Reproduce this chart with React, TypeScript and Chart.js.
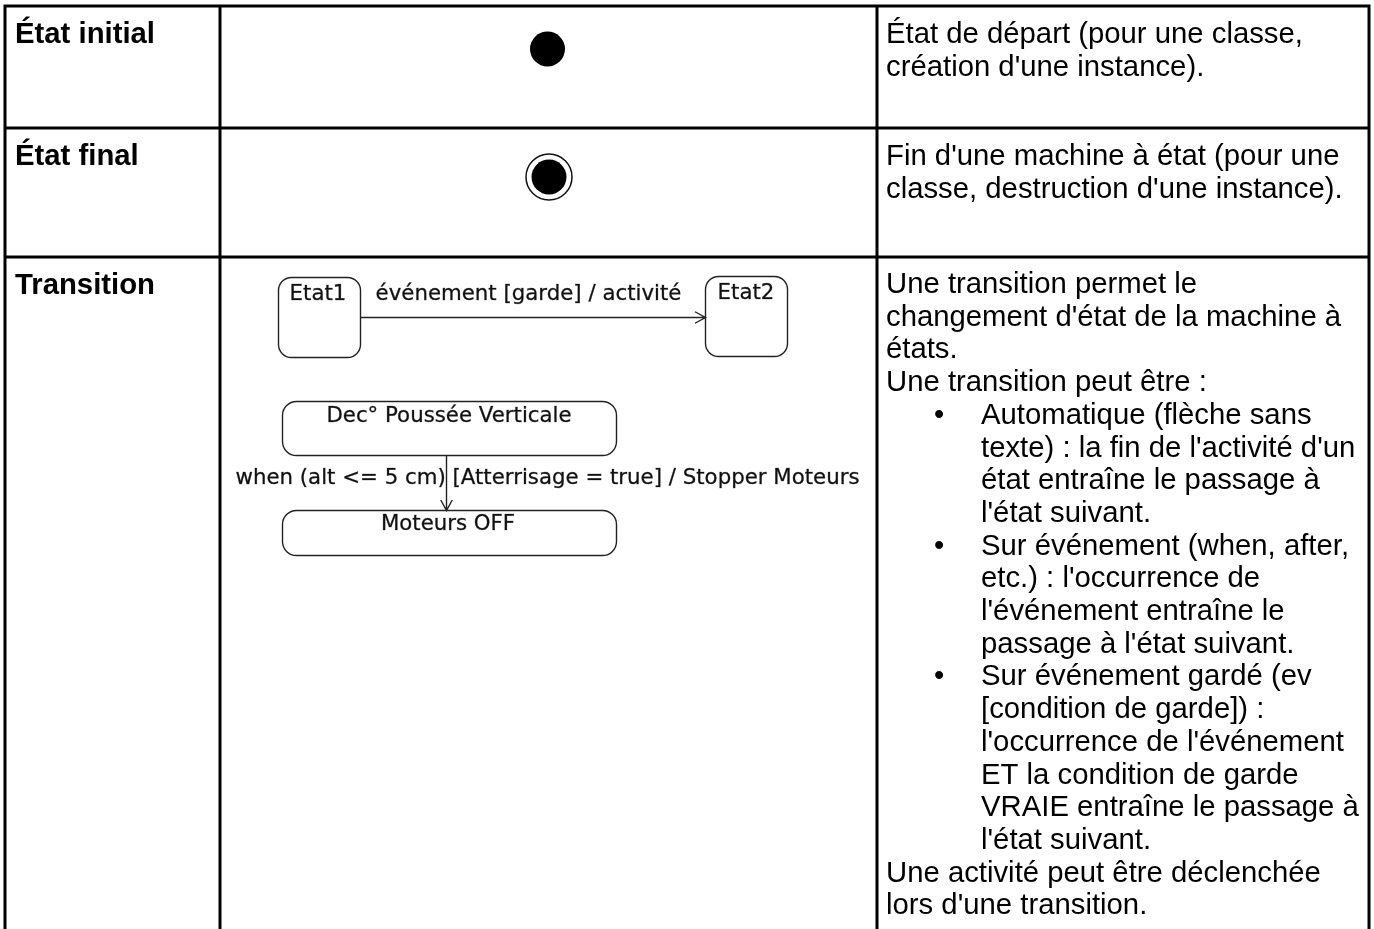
import React, { useEffect, useRef } from "react";
import { Chart, registerables } from "chart.js";
Chart.register(...registerables);

// ---- content ----
const rowTitles = ["État initial", "État final", "Transition"];
const descInitial = ["État de départ (pour une classe,", "création d'une instance)."];
const descFinal = ["Fin d'une machine à état (pour une", "classe, destruction d'une instance)."];
const descTransition = [
  "Une transition permet le",
  "changement d'état de la machine à",
  "états.",
  "Une transition peut être :",
  "Automatique (flèche sans",
  "texte) : la fin de l'activité d'un",
  "état entraîne le passage à",
  "l'état suivant.",
  "Sur événement (when, after,",
  "etc.) : l'occurrence de",
  "l'événement entraîne le",
  "passage à l'état suivant.",
  "Sur événement gardé (ev",
  "[condition de garde]) :",
  "l'occurrence de l'événement",
  "ET la condition de garde",
  "VRAIE entraîne le passage à",
  "l'état suivant.",
  "Une activité peut être déclenchée",
  "lors d'une transition.",
];
// 0 = flush, 1 = indented continuation, 2 = bullet item
const descTransitionLevel = [0, 0, 0, 0, 2, 1, 1, 1, 2, 1, 1, 1, 2, 1, 1, 1, 1, 1, 0, 0];
const simpleStates = ["Etat1", "Etat2"];
const simpleTransitionLabel = "événement [garde] / activité";
const wideStates = ["Dec° Poussée Verticale", "Moteurs OFF"];
const guardedTransitionLabel = "when (alt <= 5 cm) [Atterrisage = true] / Stopper Moteurs";

// ---- layout (pixel-like units on hidden linear scales) ----
const W = 1374;
const H = 929;
const COLS = [5, 220, 877, 1369];
const ROWS = [6, 128, 257];
const LINE_H = 32.7;
const TABLE_FONT = '29.3px "Liberation Sans", Arial, sans-serif';
const TABLE_FONT_BOLD = 'bold 29.3px "Liberation Sans", Arial, sans-serif';
const DIAG_FONT = '21.3px "DejaVu Sans", sans-serif';

const tablePlugin = {
  id: "tablePlugin",
  beforeDatasetsDraw(chart: any) {
    const ctx = chart.ctx as CanvasRenderingContext2D;
    const xs = chart.scales.x;
    const ys = chart.scales.y;
    const px = (v: number) => xs.getPixelForValue(v);
    const py = (v: number) => ys.getPixelForValue(v);

    ctx.save();
    // table grid
    ctx.strokeStyle = "#000";
    ctx.lineWidth = 3;
    ctx.beginPath();
    COLS.forEach((c) => {
      ctx.moveTo(px(c), py(ROWS[0] - 1.5));
      ctx.lineTo(px(c), py(H));
    });
    ROWS.forEach((r) => {
      ctx.moveTo(px(COLS[0] - 1.5), py(r));
      ctx.lineTo(px(COLS[3] + 1.5), py(r));
    });
    ctx.stroke();

    // titles
    ctx.fillStyle = "#000";
    ctx.textBaseline = "alphabetic";
    ctx.textAlign = "left";
    ctx.font = TABLE_FONT_BOLD;
    rowTitles.forEach((t, i) => {
      ctx.fillText(t, px(COLS[0] + 10), py(ROWS[i] + 37));
    });

    // descriptions
    ctx.font = TABLE_FONT;
    const dx = COLS[2] + 9;
    descInitial.forEach((t, i) => ctx.fillText(t, px(dx), py(ROWS[0] + 37 + i * LINE_H)));
    descFinal.forEach((t, i) => ctx.fillText(t, px(dx), py(ROWS[1] + 37 + i * LINE_H)));
    descTransition.forEach((t, i) => {
      const lvl = descTransitionLevel[i];
      const y = py(ROWS[2] + 36 + i * LINE_H);
      if (lvl === 2) ctx.fillText("•", px(dx + 48), y);
      ctx.fillText(t, px(lvl > 0 ? dx + 95 : dx), y);
    });

    // ---- diagrams ----
    const rrect = (x0: number, y0: number, x1: number, y1: number, r: number) => {
      const a = px(x0), b = py(y0), c = px(x1), d = py(y1);
      ctx.beginPath();
      ctx.moveTo(a + r, b);
      ctx.lineTo(c - r, b);
      ctx.arcTo(c, b, c, b + r, r);
      ctx.lineTo(c, d - r);
      ctx.arcTo(c, d, c - r, d, r);
      ctx.lineTo(a + r, d);
      ctx.arcTo(a, d, a, d - r, r);
      ctx.lineTo(a, b + r);
      ctx.arcTo(a, b, a + r, b, r);
      ctx.closePath();
      ctx.stroke();
    };
    const arrow = (x0: number, y0: number, x1: number, y1: number) => {
      const a = px(x0), b = py(y0), c = px(x1), d = py(y1);
      ctx.beginPath();
      ctx.moveTo(a, b);
      ctx.lineTo(c, d);
      const ang = Math.atan2(d - b, c - a);
      const L = 12;
      const s = 0.5;
      ctx.moveTo(c - L * Math.cos(ang - s), d - L * Math.sin(ang - s));
      ctx.lineTo(c, d);
      ctx.lineTo(c - L * Math.cos(ang + s), d - L * Math.sin(ang + s));
      ctx.stroke();
    };
    const label = (t: string, x: number, y: number) => {
      ctx.fillText(t, px(x), py(y));
      ctx.strokeText(t, px(x), py(y));
    };

    ctx.strokeStyle = "#222";
    ctx.lineWidth = 1.4;
    rrect(278.5, 277.5, 360.5, 357.5, 13);
    rrect(705.5, 276.5, 787.5, 356.5, 13);
    arrow(360.5, 317.5, 705.5, 317.5);
    rrect(282.5, 401.5, 616.5, 455.5, 14);
    rrect(282.5, 510.5, 616.5, 555.5, 14);
    arrow(446.5, 455.5, 446.5, 510.5);

    ctx.fillStyle = "#111";
    ctx.strokeStyle = "rgba(17,17,17,0.55)";
    ctx.lineWidth = 0.5;
    ctx.font = DIAG_FONT;
    ctx.textAlign = "center";
    ctx.textBaseline = "middle";
    label(simpleStates[0], 318, 294);
    label(simpleStates[1], 746, 293);
    label(simpleTransitionLabel, 528.5, 294);
    label(wideStates[0], 449, 416);
    label(wideStates[1], 448, 524);
    label(guardedTransitionLabel, 547.5, 478);

    ctx.restore();
  },
};

export default function App() {
  const ref = useRef<HTMLCanvasElement | null>(null);
  useEffect(() => {
    document.body.style.margin = "0";
    document.body.style.overflow = "hidden";
    document.body.style.background = "#fff";
    const canvas = ref.current!;
    const chart = new Chart(canvas, {
      type: "scatter",
      data: {
        datasets: [
          {
            label: "initial",
            data: [{ x: 547.5, y: 49 }],
            pointRadius: 17.5,
            backgroundColor: "#000",
            borderWidth: 0,
            order: 1,
          },
          {
            label: "finalInner",
            data: [{ x: 549, y: 177 }],
            pointRadius: 17.5,
            backgroundColor: "#000",
            borderWidth: 0,
            order: 1,
          },
          {
            label: "finalOuter",
            data: [{ x: 549, y: 177 }],
            pointRadius: 23,
            backgroundColor: "#fff",
            borderColor: "#111",
            borderWidth: 1.5,
            order: 2,
          },
        ],
      },
      options: {
        responsive: false,
        animation: false,
        events: [],
        layout: { padding: 0, autoPadding: false },
        plugins: {
          legend: { display: false },
          tooltip: { enabled: false },
          title: { display: false },
        },
        scales: {
          x: { type: "linear", min: 0, max: W, display: false },
          y: { type: "linear", min: 0, max: H, reverse: true, display: false },
        },
      },
      plugins: [tablePlugin],
    });
    return () => chart.destroy();
  }, []);
  return (
    <canvas
      ref={ref}
      width={W}
      height={H}
      style={{ display: "block", width: W, height: H }}
    />
  );
}
